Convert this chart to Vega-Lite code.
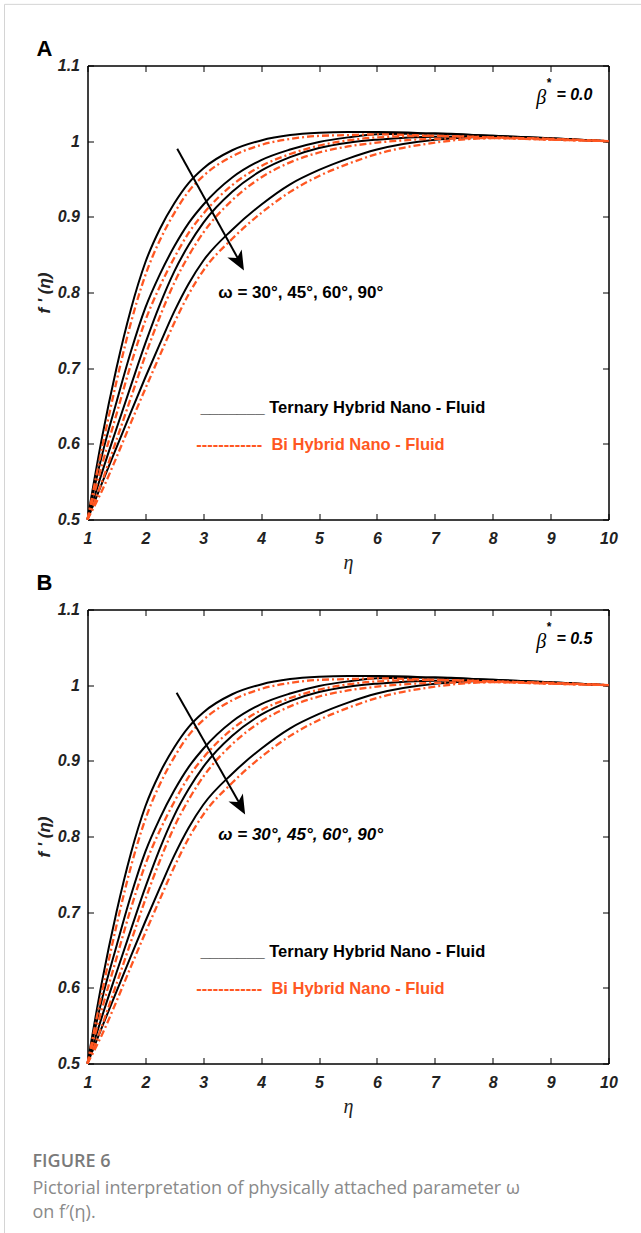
{
"$schema":"https://vega.github.io/schema/vega-lite/v6.json",
"background":"white",
"padding":{"left":3.5,"top":2.5,"right":0,"bottom":0},
"config":{"font":"Liberation Sans","view":{"stroke":"#000","strokeWidth":1},
"axis":{"grid":false,"domainColor":"#000","domainWidth":1,"tickColor":"#000","tickWidth":1,"tickSize":-6,"labelFont":"Liberation Sans","labelFontSize":16,"labelFontWeight":"bold","labelFontStyle":"italic","labelColor":"#222","labelFlush":false,"labelOverlap":false,"titleColor":"#222"}},
"datasets":{"curves":[
{"fluid":"Ternary","omega":30,"eta":1,"f":0.500},{"fluid":"Ternary","omega":30,"eta":1.25,"f":0.608},{"fluid":"Ternary","omega":30,"eta":1.5,"f":0.700},{"fluid":"Ternary","omega":30,"eta":1.75,"f":0.778},{"fluid":"Ternary","omega":30,"eta":2,"f":0.840},{"fluid":"Ternary","omega":30,"eta":2.25,"f":0.884},{"fluid":"Ternary","omega":30,"eta":2.5,"f":0.918},{"fluid":"Ternary","omega":30,"eta":2.75,"f":0.945},{"fluid":"Ternary","omega":30,"eta":3,"f":0.964},{"fluid":"Ternary","omega":30,"eta":3.5,"f":0.988},{"fluid":"Ternary","omega":30,"eta":4,"f":1.001},{"fluid":"Ternary","omega":30,"eta":4.5,"f":1.008},{"fluid":"Ternary","omega":30,"eta":5,"f":1.011},{"fluid":"Ternary","omega":30,"eta":5.5,"f":1.012},{"fluid":"Ternary","omega":30,"eta":6,"f":1.012},{"fluid":"Ternary","omega":30,"eta":7,"f":1.010},{"fluid":"Ternary","omega":30,"eta":8,"f":1.007},{"fluid":"Ternary","omega":30,"eta":9,"f":1.004},{"fluid":"Ternary","omega":30,"eta":10,"f":1.000},
{"fluid":"Ternary","omega":45,"eta":1,"f":0.500},{"fluid":"Ternary","omega":45,"eta":1.25,"f":0.585},{"fluid":"Ternary","omega":45,"eta":1.5,"f":0.655},{"fluid":"Ternary","omega":45,"eta":1.75,"f":0.722},{"fluid":"Ternary","omega":45,"eta":2,"f":0.780},{"fluid":"Ternary","omega":45,"eta":2.25,"f":0.824},{"fluid":"Ternary","omega":45,"eta":2.5,"f":0.861},{"fluid":"Ternary","omega":45,"eta":2.75,"f":0.892},{"fluid":"Ternary","omega":45,"eta":3,"f":0.916},{"fluid":"Ternary","omega":45,"eta":3.5,"f":0.952},{"fluid":"Ternary","omega":45,"eta":4,"f":0.975},{"fluid":"Ternary","omega":45,"eta":4.5,"f":0.989},{"fluid":"Ternary","omega":45,"eta":5,"f":0.999},{"fluid":"Ternary","omega":45,"eta":5.5,"f":1.005},{"fluid":"Ternary","omega":45,"eta":6,"f":1.009},{"fluid":"Ternary","omega":45,"eta":7,"f":1.010},{"fluid":"Ternary","omega":45,"eta":8,"f":1.007},{"fluid":"Ternary","omega":45,"eta":9,"f":1.004},{"fluid":"Ternary","omega":45,"eta":10,"f":1.000},
{"fluid":"Ternary","omega":60,"eta":1,"f":0.500},{"fluid":"Ternary","omega":60,"eta":1.25,"f":0.562},{"fluid":"Ternary","omega":60,"eta":1.5,"f":0.620},{"fluid":"Ternary","omega":60,"eta":1.75,"f":0.677},{"fluid":"Ternary","omega":60,"eta":2,"f":0.733},{"fluid":"Ternary","omega":60,"eta":2.25,"f":0.784},{"fluid":"Ternary","omega":60,"eta":2.5,"f":0.828},{"fluid":"Ternary","omega":60,"eta":2.75,"f":0.863},{"fluid":"Ternary","omega":60,"eta":3,"f":0.892},{"fluid":"Ternary","omega":60,"eta":3.5,"f":0.933},{"fluid":"Ternary","omega":60,"eta":4,"f":0.961},{"fluid":"Ternary","omega":60,"eta":4.5,"f":0.979},{"fluid":"Ternary","omega":60,"eta":5,"f":0.991},{"fluid":"Ternary","omega":60,"eta":5.5,"f":0.998},{"fluid":"Ternary","omega":60,"eta":6,"f":1.002},{"fluid":"Ternary","omega":60,"eta":7,"f":1.006},{"fluid":"Ternary","omega":60,"eta":8,"f":1.006},{"fluid":"Ternary","omega":60,"eta":9,"f":1.003},{"fluid":"Ternary","omega":60,"eta":10,"f":1.000},
{"fluid":"Ternary","omega":90,"eta":1,"f":0.500},{"fluid":"Ternary","omega":90,"eta":1.25,"f":0.548},{"fluid":"Ternary","omega":90,"eta":1.5,"f":0.595},{"fluid":"Ternary","omega":90,"eta":1.75,"f":0.642},{"fluid":"Ternary","omega":90,"eta":2,"f":0.688},{"fluid":"Ternary","omega":90,"eta":2.25,"f":0.732},{"fluid":"Ternary","omega":90,"eta":2.5,"f":0.775},{"fluid":"Ternary","omega":90,"eta":2.75,"f":0.812},{"fluid":"Ternary","omega":90,"eta":3,"f":0.842},{"fluid":"Ternary","omega":90,"eta":3.5,"f":0.883},{"fluid":"Ternary","omega":90,"eta":4,"f":0.916},{"fluid":"Ternary","omega":90,"eta":4.5,"f":0.943},{"fluid":"Ternary","omega":90,"eta":5,"f":0.962},{"fluid":"Ternary","omega":90,"eta":5.5,"f":0.977},{"fluid":"Ternary","omega":90,"eta":6,"f":0.989},{"fluid":"Ternary","omega":90,"eta":7,"f":1.002},{"fluid":"Ternary","omega":90,"eta":8,"f":1.006},{"fluid":"Ternary","omega":90,"eta":9,"f":1.003},{"fluid":"Ternary","omega":90,"eta":10,"f":1.000},
{"fluid":"Bi","omega":30,"eta":1,"f":0.500},{"fluid":"Bi","omega":30,"eta":1.25,"f":0.594},{"fluid":"Bi","omega":30,"eta":1.5,"f":0.682},{"fluid":"Bi","omega":30,"eta":1.75,"f":0.760},{"fluid":"Bi","omega":30,"eta":2,"f":0.823},{"fluid":"Bi","omega":30,"eta":2.25,"f":0.869},{"fluid":"Bi","omega":30,"eta":2.5,"f":0.905},{"fluid":"Bi","omega":30,"eta":2.75,"f":0.934},{"fluid":"Bi","omega":30,"eta":3,"f":0.954},{"fluid":"Bi","omega":30,"eta":3.5,"f":0.980},{"fluid":"Bi","omega":30,"eta":4,"f":0.995},{"fluid":"Bi","omega":30,"eta":4.5,"f":1.003},{"fluid":"Bi","omega":30,"eta":5,"f":1.007},{"fluid":"Bi","omega":30,"eta":5.5,"f":1.008},{"fluid":"Bi","omega":30,"eta":6,"f":1.009},{"fluid":"Bi","omega":30,"eta":7,"f":1.007},{"fluid":"Bi","omega":30,"eta":8,"f":1.005},{"fluid":"Bi","omega":30,"eta":9,"f":1.003},{"fluid":"Bi","omega":30,"eta":10,"f":1.000},
{"fluid":"Bi","omega":45,"eta":1,"f":0.500},{"fluid":"Bi","omega":45,"eta":1.25,"f":0.572},{"fluid":"Bi","omega":45,"eta":1.5,"f":0.639},{"fluid":"Bi","omega":45,"eta":1.75,"f":0.705},{"fluid":"Bi","omega":45,"eta":2,"f":0.763},{"fluid":"Bi","omega":45,"eta":2.25,"f":0.808},{"fluid":"Bi","omega":45,"eta":2.5,"f":0.846},{"fluid":"Bi","omega":45,"eta":2.75,"f":0.879},{"fluid":"Bi","omega":45,"eta":3,"f":0.904},{"fluid":"Bi","omega":45,"eta":3.5,"f":0.942},{"fluid":"Bi","omega":45,"eta":4,"f":0.967},{"fluid":"Bi","omega":45,"eta":4.5,"f":0.983},{"fluid":"Bi","omega":45,"eta":5,"f":0.994},{"fluid":"Bi","omega":45,"eta":5.5,"f":1.001},{"fluid":"Bi","omega":45,"eta":6,"f":1.005},{"fluid":"Bi","omega":45,"eta":7,"f":1.007},{"fluid":"Bi","omega":45,"eta":8,"f":1.005},{"fluid":"Bi","omega":45,"eta":9,"f":1.003},{"fluid":"Bi","omega":45,"eta":10,"f":1.000},
{"fluid":"Bi","omega":60,"eta":1,"f":0.500},{"fluid":"Bi","omega":60,"eta":1.25,"f":0.550},{"fluid":"Bi","omega":60,"eta":1.5,"f":0.605},{"fluid":"Bi","omega":60,"eta":1.75,"f":0.661},{"fluid":"Bi","omega":60,"eta":2,"f":0.717},{"fluid":"Bi","omega":60,"eta":2.25,"f":0.768},{"fluid":"Bi","omega":60,"eta":2.5,"f":0.813},{"fluid":"Bi","omega":60,"eta":2.75,"f":0.849},{"fluid":"Bi","omega":60,"eta":3,"f":0.879},{"fluid":"Bi","omega":60,"eta":3.5,"f":0.922},{"fluid":"Bi","omega":60,"eta":4,"f":0.952},{"fluid":"Bi","omega":60,"eta":4.5,"f":0.972},{"fluid":"Bi","omega":60,"eta":5,"f":0.985},{"fluid":"Bi","omega":60,"eta":5.5,"f":0.993},{"fluid":"Bi","omega":60,"eta":6,"f":0.998},{"fluid":"Bi","omega":60,"eta":7,"f":1.003},{"fluid":"Bi","omega":60,"eta":8,"f":1.004},{"fluid":"Bi","omega":60,"eta":9,"f":1.002},{"fluid":"Bi","omega":60,"eta":10,"f":1.000},
{"fluid":"Bi","omega":90,"eta":1,"f":0.500},{"fluid":"Bi","omega":90,"eta":1.25,"f":0.538},{"fluid":"Bi","omega":90,"eta":1.5,"f":0.582},{"fluid":"Bi","omega":90,"eta":1.75,"f":0.628},{"fluid":"Bi","omega":90,"eta":2,"f":0.673},{"fluid":"Bi","omega":90,"eta":2.25,"f":0.717},{"fluid":"Bi","omega":90,"eta":2.5,"f":0.760},{"fluid":"Bi","omega":90,"eta":2.75,"f":0.798},{"fluid":"Bi","omega":90,"eta":3,"f":0.829},{"fluid":"Bi","omega":90,"eta":3.5,"f":0.871},{"fluid":"Bi","omega":90,"eta":4,"f":0.905},{"fluid":"Bi","omega":90,"eta":4.5,"f":0.933},{"fluid":"Bi","omega":90,"eta":5,"f":0.954},{"fluid":"Bi","omega":90,"eta":5.5,"f":0.970},{"fluid":"Bi","omega":90,"eta":6,"f":0.983},{"fluid":"Bi","omega":90,"eta":7,"f":0.998},{"fluid":"Bi","omega":90,"eta":8,"f":1.004},{"fluid":"Bi","omega":90,"eta":9,"f":1.002},{"fluid":"Bi","omega":90,"eta":10,"f":1.000}
]},
"spacing":90,
"bounds":"flush",
"vconcat":[
{
"width":521,"height":454,
"resolve":{"axis":{"x":"independent","y":"independent"}},
"encoding":{
"x":{"field":"eta","type":"quantitative","scale":{"domain":[1,10],"nice":false,"zero":false},"axis":null},
"y":{"field":"f","type":"quantitative","scale":{"domain":[0.5,1.1],"nice":false,"zero":false},"axis":null}},
"layer":[
{"data":{"name":"curves"},"transform":[{"filter":"datum.fluid === 'Ternary'"}],
"mark":{"type":"line","color":"#000","strokeWidth":2,"interpolate":"monotone"},
"encoding":{
"x":{"field":"eta","type":"quantitative","scale":{"domain":[1,10],"nice":false,"zero":false},"axis":{"values":[1,2,3,4,5,6,7,8,9,10],"format":"d","labelPadding":17,"title":"η","titleFont":"Liberation Serif","titleFontStyle":"italic","titleFontWeight":"normal","titleFontSize":20,"titlePadding":6}},
"y":{"field":"f","type":"quantitative","scale":{"domain":[0.5,1.1],"nice":false,"zero":false},"axis":{"values":[0.5,0.6,0.7,0.8,0.9,1,1.1],"format":"~g","labelPadding":14,"title":"f ' (η)","titleFontSize":17,"titleFontWeight":"bold","titleFontStyle":"italic","titlePadding":4}},
"detail":{"field":"omega"}}},
{"data":{"name":"curves"},"transform":[{"filter":"datum.fluid === 'Bi'"}],
"mark":{"type":"line","color":"#FF5722","strokeWidth":2.3,"strokeDash":[7,3,2,3],"interpolate":"monotone"},
"encoding":{
"x":{"field":"eta","type":"quantitative","scale":{"domain":[1,10],"nice":false,"zero":false},"axis":{"orient":"top","values":[1,2,3,4,5,6,7,8,9,10],"labels":false,"title":null}},
"y":{"field":"f","type":"quantitative","scale":{"domain":[0.5,1.1],"nice":false,"zero":false},"axis":{"orient":"right","values":[0.5,0.6,0.7,0.8,0.9,1,1.1],"labels":false,"title":null}},
"detail":{"field":"omega"}}},
{"data":{"values":[{"eta":2.55,"f":0.990},{"eta":3.62,"f":0.842}]},"mark":{"type":"line","color":"#000","strokeWidth":2}},
{"data":{"values":[{"eta":3.617,"f":0.841}]},"mark":{"type":"point","shape":"M0,-1L0.8,0.9L0,0.4L-0.8,0.9Z","filled":true,"color":"#000","opacity":1,"size":420,"angle":151}},
{"data":{"values":[{"eta":3.26,"f":0.800,"text":"ω = 30°, 45°, 60°, 90°"}]},"mark":{"type":"text","align":"left","baseline":"middle","fontSize":17,"fontWeight":"bold","color":"#000"},"encoding":{"text":{"field":"text"}}},
{"data":{"values":[{"eta":2.95,"f":0.647,"text":"_______ Ternary Hybrid Nano - Fluid"}]},"mark":{"type":"text","align":"left","baseline":"middle","fontSize":16.5,"fontWeight":"bold","color":"#000"},"encoding":{"text":{"field":"text"}}},
{"data":{"values":[{"eta":2.88,"f":0.598,"text":"------------ \u00a0Bi Hybrid Nano - Fluid"}]},"mark":{"type":"text","align":"left","baseline":"middle","fontSize":16.5,"fontWeight":"bold","color":"#FF5722"},"encoding":{"text":{"field":"text"}}},
{"data":{"values":[{"eta":8.84,"f":1.057,"text":"β"}]},"mark":{"type":"text","align":"center","baseline":"middle","fontSize":20,"font":"Liberation Serif","fontStyle":"italic","color":"#000"},"encoding":{"text":{"field":"text"}}},
{"data":{"values":[{"eta":8.975,"f":1.0775,"text":"*"}]},"mark":{"type":"text","align":"center","baseline":"middle","fontSize":12,"fontWeight":"bold","color":"#000"},"encoding":{"text":{"field":"text"}}},
{"data":{"values":[{"eta":9.1,"f":1.0612,"text":"= 0.0"}]},"mark":{"type":"text","align":"left","baseline":"middle","fontSize":16,"fontWeight":"bold","fontStyle":"italic","color":"#000"},"encoding":{"text":{"field":"text"}}},
{"data":{"values":[{"eta":0.257,"f":1.1212,"text":"A"}]},"mark":{"type":"text","align":"center","baseline":"middle","fontSize":22,"fontWeight":"bold","color":"#000"},"encoding":{"text":{"field":"text"}}},
{"data":{"values":[{"eta":-0.4335,"f":1.1808,"f2":-0.448}]},"mark":{"type":"rule","color":"#d4d4d4","strokeWidth":1},"encoding":{"y2":{"field":"f2"}}},
{"data":{"values":[{"eta":-0.4335,"eta2":10.568,"f":1.1808}]},"mark":{"type":"rule","color":"#d4d4d4","strokeWidth":1},"encoding":{"x2":{"field":"eta2"}}}
]},
{
"width":521,"height":454,
"resolve":{"axis":{"x":"independent","y":"independent"}},
"encoding":{
"x":{"field":"eta","type":"quantitative","scale":{"domain":[1,10],"nice":false,"zero":false},"axis":null},
"y":{"field":"f","type":"quantitative","scale":{"domain":[0.5,1.1],"nice":false,"zero":false},"axis":null}},
"layer":[
{"data":{"name":"curves"},"transform":[{"filter":"datum.fluid === 'Ternary'"}],
"mark":{"type":"line","color":"#000","strokeWidth":2,"interpolate":"monotone"},
"encoding":{
"x":{"field":"eta","type":"quantitative","scale":{"domain":[1,10],"nice":false,"zero":false},"axis":{"values":[1,2,3,4,5,6,7,8,9,10],"format":"d","labelPadding":17,"title":"η","titleFont":"Liberation Serif","titleFontStyle":"italic","titleFontWeight":"normal","titleFontSize":20,"titlePadding":6}},
"y":{"field":"f","type":"quantitative","scale":{"domain":[0.5,1.1],"nice":false,"zero":false},"axis":{"values":[0.5,0.6,0.7,0.8,0.9,1,1.1],"format":"~g","labelPadding":14,"title":"f ' (η)","titleFontSize":17,"titleFontWeight":"bold","titleFontStyle":"italic","titlePadding":4}},
"detail":{"field":"omega"}}},
{"data":{"name":"curves"},"transform":[{"filter":"datum.fluid === 'Bi'"}],
"mark":{"type":"line","color":"#FF5722","strokeWidth":2.3,"strokeDash":[7,3,2,3],"interpolate":"monotone"},
"encoding":{
"x":{"field":"eta","type":"quantitative","scale":{"domain":[1,10],"nice":false,"zero":false},"axis":{"orient":"top","values":[1,2,3,4,5,6,7,8,9,10],"labels":false,"title":null}},
"y":{"field":"f","type":"quantitative","scale":{"domain":[0.5,1.1],"nice":false,"zero":false},"axis":{"orient":"right","values":[0.5,0.6,0.7,0.8,0.9,1,1.1],"labels":false,"title":null}},
"detail":{"field":"omega"}}},
{"data":{"values":[{"eta":2.54,"f":0.990},{"eta":3.64,"f":0.842}]},"mark":{"type":"line","color":"#000","strokeWidth":2}},
{"data":{"values":[{"eta":3.637,"f":0.841}]},"mark":{"type":"point","shape":"M0,-1L0.8,0.9L0,0.4L-0.8,0.9Z","filled":true,"color":"#000","opacity":1,"size":420,"angle":151}},
{"data":{"values":[{"eta":3.26,"f":0.802,"text":"ω = 30°, 45°, 60°, 90°"}]},"mark":{"type":"text","align":"left","baseline":"middle","fontSize":17,"fontWeight":"bold","fontStyle":"italic","color":"#000"},"encoding":{"text":{"field":"text"}}},
{"data":{"values":[{"eta":2.95,"f":0.647,"text":"_______ Ternary Hybrid Nano - Fluid"}]},"mark":{"type":"text","align":"left","baseline":"middle","fontSize":16.5,"fontWeight":"bold","color":"#000"},"encoding":{"text":{"field":"text"}}},
{"data":{"values":[{"eta":2.88,"f":0.598,"text":"------------ \u00a0Bi Hybrid Nano - Fluid"}]},"mark":{"type":"text","align":"left","baseline":"middle","fontSize":16.5,"fontWeight":"bold","color":"#FF5722"},"encoding":{"text":{"field":"text"}}},
{"data":{"values":[{"eta":8.84,"f":1.057,"text":"β"}]},"mark":{"type":"text","align":"center","baseline":"middle","fontSize":20,"font":"Liberation Serif","fontStyle":"italic","color":"#000"},"encoding":{"text":{"field":"text"}}},
{"data":{"values":[{"eta":8.975,"f":1.0775,"text":"*"}]},"mark":{"type":"text","align":"center","baseline":"middle","fontSize":12,"fontWeight":"bold","color":"#000"},"encoding":{"text":{"field":"text"}}},
{"data":{"values":[{"eta":9.1,"f":1.0612,"text":"= 0.5"}]},"mark":{"type":"text","align":"left","baseline":"middle","fontSize":16,"fontWeight":"bold","fontStyle":"italic","color":"#000"},"encoding":{"text":{"field":"text"}}},
{"data":{"values":[{"eta":0.257,"f":1.1344,"text":"B"}]},"mark":{"type":"text","align":"center","baseline":"middle","fontSize":22,"fontWeight":"bold","color":"#000"},"encoding":{"text":{"field":"text"}}},
{"data":{"values":[{"eta":0.05,"f":0.3702,"text":"FIGURE 6"}]},"mark":{"type":"text","align":"left","baseline":"middle","fontSize":18,"font":"Open Sans","fontWeight":600,"color":"#7a7a7a"},"encoding":{"text":{"field":"text"}}},
{"data":{"values":[{"eta":0.05,"f":0.3344,"text":"Pictorial interpretation of physically attached parameter ω"},{"eta":0.05,"f":0.3026,"text":"on f′(η)."}]},"mark":{"type":"text","align":"left","baseline":"middle","fontSize":18,"font":"Open Sans","color":"#8a8a8a"},"encoding":{"text":{"field":"text"}}}
]}
]
}
